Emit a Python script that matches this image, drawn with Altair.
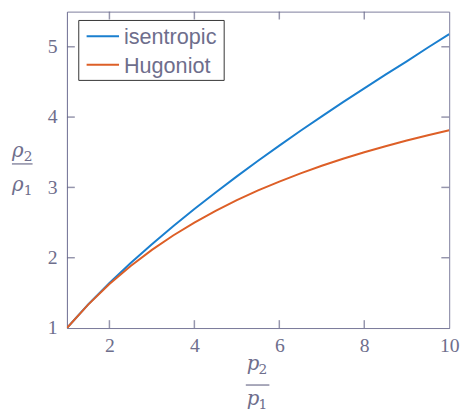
import altair as alt
import pandas as pd

# values
x_vals = [1, 1.5, 2, 2.5, 3, 3.5, 4, 4.5, 5, 5.5, 6, 6.5, 7, 7.5, 8, 8.5, 9, 9.5, 10]
isentropic = [1.0, 1.336, 1.641, 1.925, 2.192, 2.448, 2.692, 2.928, 3.157, 3.378, 3.594,
              3.805, 4.010, 4.212, 4.409, 4.603, 4.793, 4.989, 5.179]
hugoniot = [1.0, 1.333, 1.625, 1.882, 2.111, 2.316, 2.500, 2.667, 2.818, 2.957, 3.083,
            3.200, 3.308, 3.407, 3.500, 3.586, 3.667, 3.742, 3.813]
series_names = ["isentropic", "Hugoniot"]
series_colors = ["#1a7fcf", "#dd5f27"]
x_ticks = [2, 4, 6, 8, 10]
y_ticks = [2, 3, 4, 5]

W, H = 389, 322
X0, X1, Y0, Y1 = 1, 10, 1, 5.5
axis_col = "#7c7c9c"
tick_col = "#6a6a8a"
label_col = "#6e6e8c"
serif = "Liberation Serif"
TL = 8  # tick length in px

rows = []
for name, ys in zip(series_names, [isentropic, hugoniot]):
    for xv, yv in zip(x_vals, ys):
        rows.append({"x": xv, "y": yv, "series": name})
df = pd.DataFrame(rows)

xs = alt.Scale(domain=[X0, X1], nice=False)
ys_ = alt.Scale(domain=[Y0, Y1], nice=False)

lines = alt.Chart(df).mark_line(strokeWidth=2, clip=True).encode(
    x=alt.X("x:Q", scale=xs, axis=alt.Axis(values=[1] + x_ticks, title=None, tickSize=0, format="d",
                                          labelFont=serif, labelFontSize=20, labelColor=label_col,
                                          domainColor=axis_col, labelPadding=8, grid=False,
                                          labelExpr="datum.value == 1 ? '' : datum.label")),
    y=alt.Y("y:Q", scale=ys_, axis=alt.Axis(values=[1] + y_ticks, title=None, tickSize=0, format="d",
                                           labelFont=serif, labelFontSize=20, labelColor=label_col,
                                           domainColor=axis_col, labelPadding=10, grid=False)),
    color=alt.Color("series:N", scale=alt.Scale(domain=series_names, range=series_colors),
                    legend=None),
)

# inward ticks on all four sides (tick marks sit at the middle of the free axis; offset them to the edges)
xt = pd.DataFrame({"xv": [float(v) for v in x_ticks[:-1]]})
yt = pd.DataFrame({"yv": [float(v) for v in y_ticks]})
tk = dict(color=tick_col, thickness=1.5, size=TL)
off_y = H / 2 - TL / 2
off_x = W / 2 - TL / 2
xb = alt.Chart(xt).mark_tick(yOffset=off_y, **tk).encode(x=alt.X("xv:Q", scale=xs))
xtop = alt.Chart(xt).mark_tick(yOffset=-off_y, **tk).encode(x=alt.X("xv:Q", scale=xs))
yl = alt.Chart(yt).mark_tick(xOffset=-off_x, **tk).encode(y=alt.Y("yv:Q", scale=ys_))
yr = alt.Chart(yt).mark_tick(xOffset=off_x, **tk).encode(y=alt.Y("yv:Q", scale=ys_))

one = pd.DataFrame({"k": [0]})


def txt(s, px, py, size, italic=True, font="DejaVu Serif", baseline="alphabetic"):
    return alt.Chart(one).mark_text(text=s, font=font, fontStyle="italic" if italic else "normal",
                                    fontSize=size, color=label_col, baseline=baseline,
                                    align="left").encode(x=alt.value(px), y=alt.value(py))


def bar(x1, x2, py, color=label_col, width=1.2):
    return alt.Chart(one).mark_rule(color=color, strokeWidth=width).encode(
        x=alt.value(x1), x2=alt.value(x2), y=alt.value(py))


titles = [
    txt("ρ", -56, 148, 20), txt("2", -44, 152, 14, False), bar(-56, -35, 155),
    txt("ρ", -56, 183, 20), txt("1", -44, 187, 14, False),
    txt("p", 183, 365, 20), txt("2", 195, 369, 14, False), bar(182, 206, 380),
    txt("p", 183, 400, 20), txt("1", 195, 404, 14, False),
]

legend_box = alt.Chart(one).mark_rect(fill="white", stroke="#333333", strokeWidth=1).encode(
    x=alt.value(12), x2=alt.value(160), y=alt.value(9), y2=alt.value(70))
legend_items = []
for i, (name, col) in enumerate(zip(series_names, series_colors)):
    yy = 25 + 29 * i
    legend_items.append(bar(20, 53, yy, color=col, width=2))
    legend_items.append(txt(name, 58, yy + 1, 22, False, font="Liberation Sans", baseline="middle"))

chart = alt.layer(lines, xb, xtop, yl, yr, *titles, legend_box, *legend_items).properties(
    width=W, height=H,
    autosize=alt.AutoSizeParams(type="none"),
    padding={"left": 60, "top": 0, "right": 12, "bottom": 95},
).configure_view(stroke=axis_col, strokeWidth=1).configure_axis(labelFlush=False)

chart.save("out.html", embed_options={"renderer": "svg", "actions": False})
